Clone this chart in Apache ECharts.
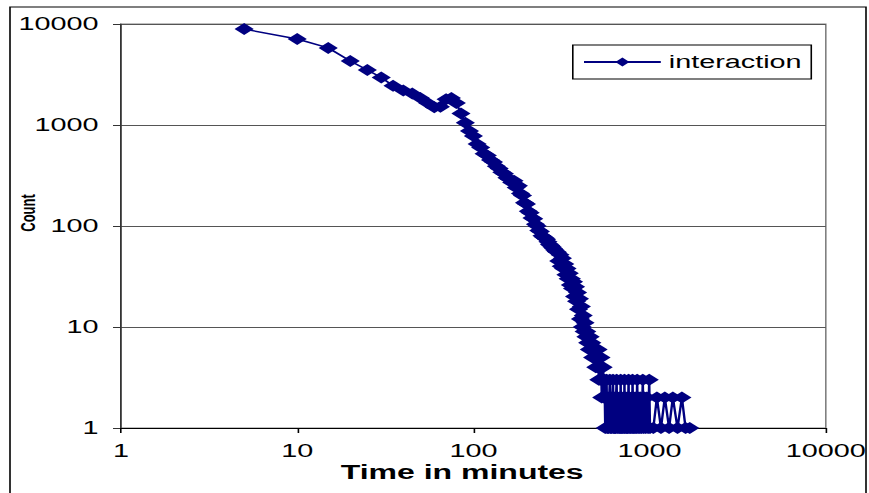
<!DOCTYPE html>
<html><head><meta charset="utf-8">
<script src="https://cdn.jsdelivr.net/npm/echarts@6/dist/echarts.min.js"></script>
<style>
html,body{margin:0;padding:0;background:#fff;overflow:hidden;}
#wrap{width:869px;height:493px;overflow:hidden;position:relative;background:#fff;}
#chart{width:543.125px;height:493px;transform:scaleX(1.6);transform-origin:0 0;}
</style></head><body>
<div id="wrap"><div id="chart"></div></div>
<script>
// ---- data ----
const seriesName = 'interaction';
const xTitle = 'Time in minutes';
const yTitle = 'Count';
const xTickLabels = ['1', '10', '100', '1000', '10000'];
const yTickLabels = ['1', '10', '100', '1000', '10000'];
const times = [
  5, 10, 15, 20, 25, 30, 35, 40, 45, 50, 55, 60, 65, 70, 75, 80, 85, 90, 95, 100,
  105, 110, 115, 120, 125, 130, 135, 140, 145, 150, 155, 160, 165, 170, 175, 180, 185, 190, 195, 200,
  205, 210, 215, 220, 225, 230, 235, 240, 245, 250, 255, 260, 265, 270, 275, 280, 285, 290, 295, 300,
  305, 310, 315, 320, 325, 330, 335, 340, 345, 350, 355, 360, 365, 370, 375, 380, 385, 390, 395, 400,
  405, 410, 415, 420, 425, 430, 435, 440, 445, 450, 455, 460, 465, 470, 475, 480, 485, 490, 495, 500,
  505, 510, 515, 520, 525, 530, 535, 540, 545, 550, 555, 560, 565, 570, 575, 580, 585, 590, 595, 600,
  605, 610, 615, 620, 625, 630, 635, 640, 645, 650, 655, 660, 670, 675, 680, 685, 690, 695, 700,
  710, 715, 720, 725, 730, 740, 745, 750, 760, 765, 770, 780, 790, 795, 800,
  810, 815, 825, 835, 840, 850, 860, 870, 880, 890, 900, 915, 925, 935, 950, 965, 980, 995,
  1005, 1050, 1100, 1160, 1220, 1290, 1355, 1440, 1525, 1600, 1690
];
const counts = [
  8900, 7100, 5800, 4300, 3500, 2950, 2450, 2200, 2050, 1850, 1650, 1500, 1520, 1800, 1850, 1650, 1300, 1050, 870, 780,
  650, 600, 520, 500, 450, 430, 390, 370, 340, 330, 300, 290, 270, 280, 240, 250, 210, 200, 170, 165,
  140, 135, 120, 118, 104, 100, 90, 88, 80, 78, 76, 74, 70, 66, 64, 62, 60, 58, 56, 55,
  45, 52, 40, 48, 38, 42, 33, 38, 30, 34, 26, 30, 24, 28, 20, 25, 18, 22, 15, 19,
  12, 16, 10, 13, 9, 11, 8, 9, 7, 8, 6, 8, 6, 7, 5, 6, 5, 6, 4, 5,
  4, 6, 3, 4, 3, 5, 2, 3, 4, 2, 3, 1, 2, 3, 1, 2, 1, 2, 3, 1,
  2, 1, 2, 3, 1, 2, 1, 1, 2, 3, 1, 2, 1, 2, 1, 3, 1, 2, 1,
  2, 1, 3, 1, 2, 1, 2, 1, 3, 1, 2, 1, 2, 1, 3,
  1, 2, 1, 2, 1, 3, 1, 2, 1, 2, 1, 3, 1, 2, 1, 2, 1, 3,
  1, 1, 2, 1, 2, 1, 2, 1, 2, 1, 1
];

// ---- chart ----
const FONT = '"Liberation Sans", Arial, sans-serif';
const NAVY = '#000080';
const chart = echarts.init(document.getElementById('chart'), null, { renderer: 'svg' });
const pairs = times.map((t, i) => [t, counts[i]]);
const labelFor = (list) => (v) => {
  const e = Math.round(Math.log10(v));
  return list[e] !== undefined ? list[e] : String(v);
};

chart.setOption({
  animation: false,
  backgroundColor: '#fff',
  grid: {
    left: 75.625, right: 26.875, top: 24, bottom: 65,
    containLabel: false, outerBoundsMode: 'none',
    show: true, borderColor: '#808080', borderWidth: 1, backgroundColor: 'transparent'
  },
  legend: {
    left: 358, top: 45,
    padding: [8, 6, 8, 6],
    borderColor: '#000', borderWidth: 1,
    itemWidth: 48, itemHeight: 11, itemGap: 5,
    textStyle: { fontSize: 18, color: '#000', fontFamily: FONT },
    data: [seriesName]
  },
  xAxis: {
    type: 'log', logBase: 10, min: 1, max: 10000, splitNumber: 4,
    name: xTitle, nameLocation: 'middle', nameGap: 34, nameMoveOverlap: false,
    nameTextStyle: { fontSize: 20, fontWeight: 'bold', color: '#000', fontFamily: FONT, padding: [0, 14, 0, 0] },
    axisLine: { show: true, lineStyle: { color: '#000', width: 1 } },
    axisTick: { show: true, inside: false, length: 5, lineStyle: { color: '#000' } },
    minorTick: { show: false },
    axisLabel: { fontSize: 18, color: '#000', fontFamily: FONT, margin: 14, formatter: labelFor(xTickLabels) },
    splitLine: { show: false }
  },
  yAxis: {
    type: 'log', logBase: 10, min: 1, max: 10000, splitNumber: 4,
    name: yTitle, nameLocation: 'middle', nameGap: 52, nameRotate: 90, nameMoveOverlap: false,
    nameTextStyle: { fontSize: 13, fontWeight: 'bold', color: '#000', fontFamily: FONT, padding: [0, 0, 0, 26] },
    axisLine: { show: true, lineStyle: { color: '#333', width: 1 } },
    axisTick: { show: true, inside: false, length: 5, lineStyle: { color: '#333' } },
    minorTick: { show: false },
    axisLabel: { fontSize: 18, color: '#000', fontFamily: FONT, margin: 14, formatter: labelFor(yTickLabels) },
    splitLine: { show: true, lineStyle: { color: '#555', width: 1 } }
  },
  series: [{
    name: seriesName,
    type: 'line',
    data: pairs,
    symbol: 'diamond',
    symbolSize: 12,
    showSymbol: true,
    itemStyle: { color: NAVY },
    lineStyle: { color: NAVY, width: 1.5 },
    emphasis: { disabled: true }
  }],
  graphic: [{
    type: 'rect', silent: true, z: 100,
    shape: { x: 6.25, y: 7, width: 535, height: 600 },
    style: { fill: 'none', stroke: '#000', lineWidth: 1 }
  }]
});
</script>
</body></html>
